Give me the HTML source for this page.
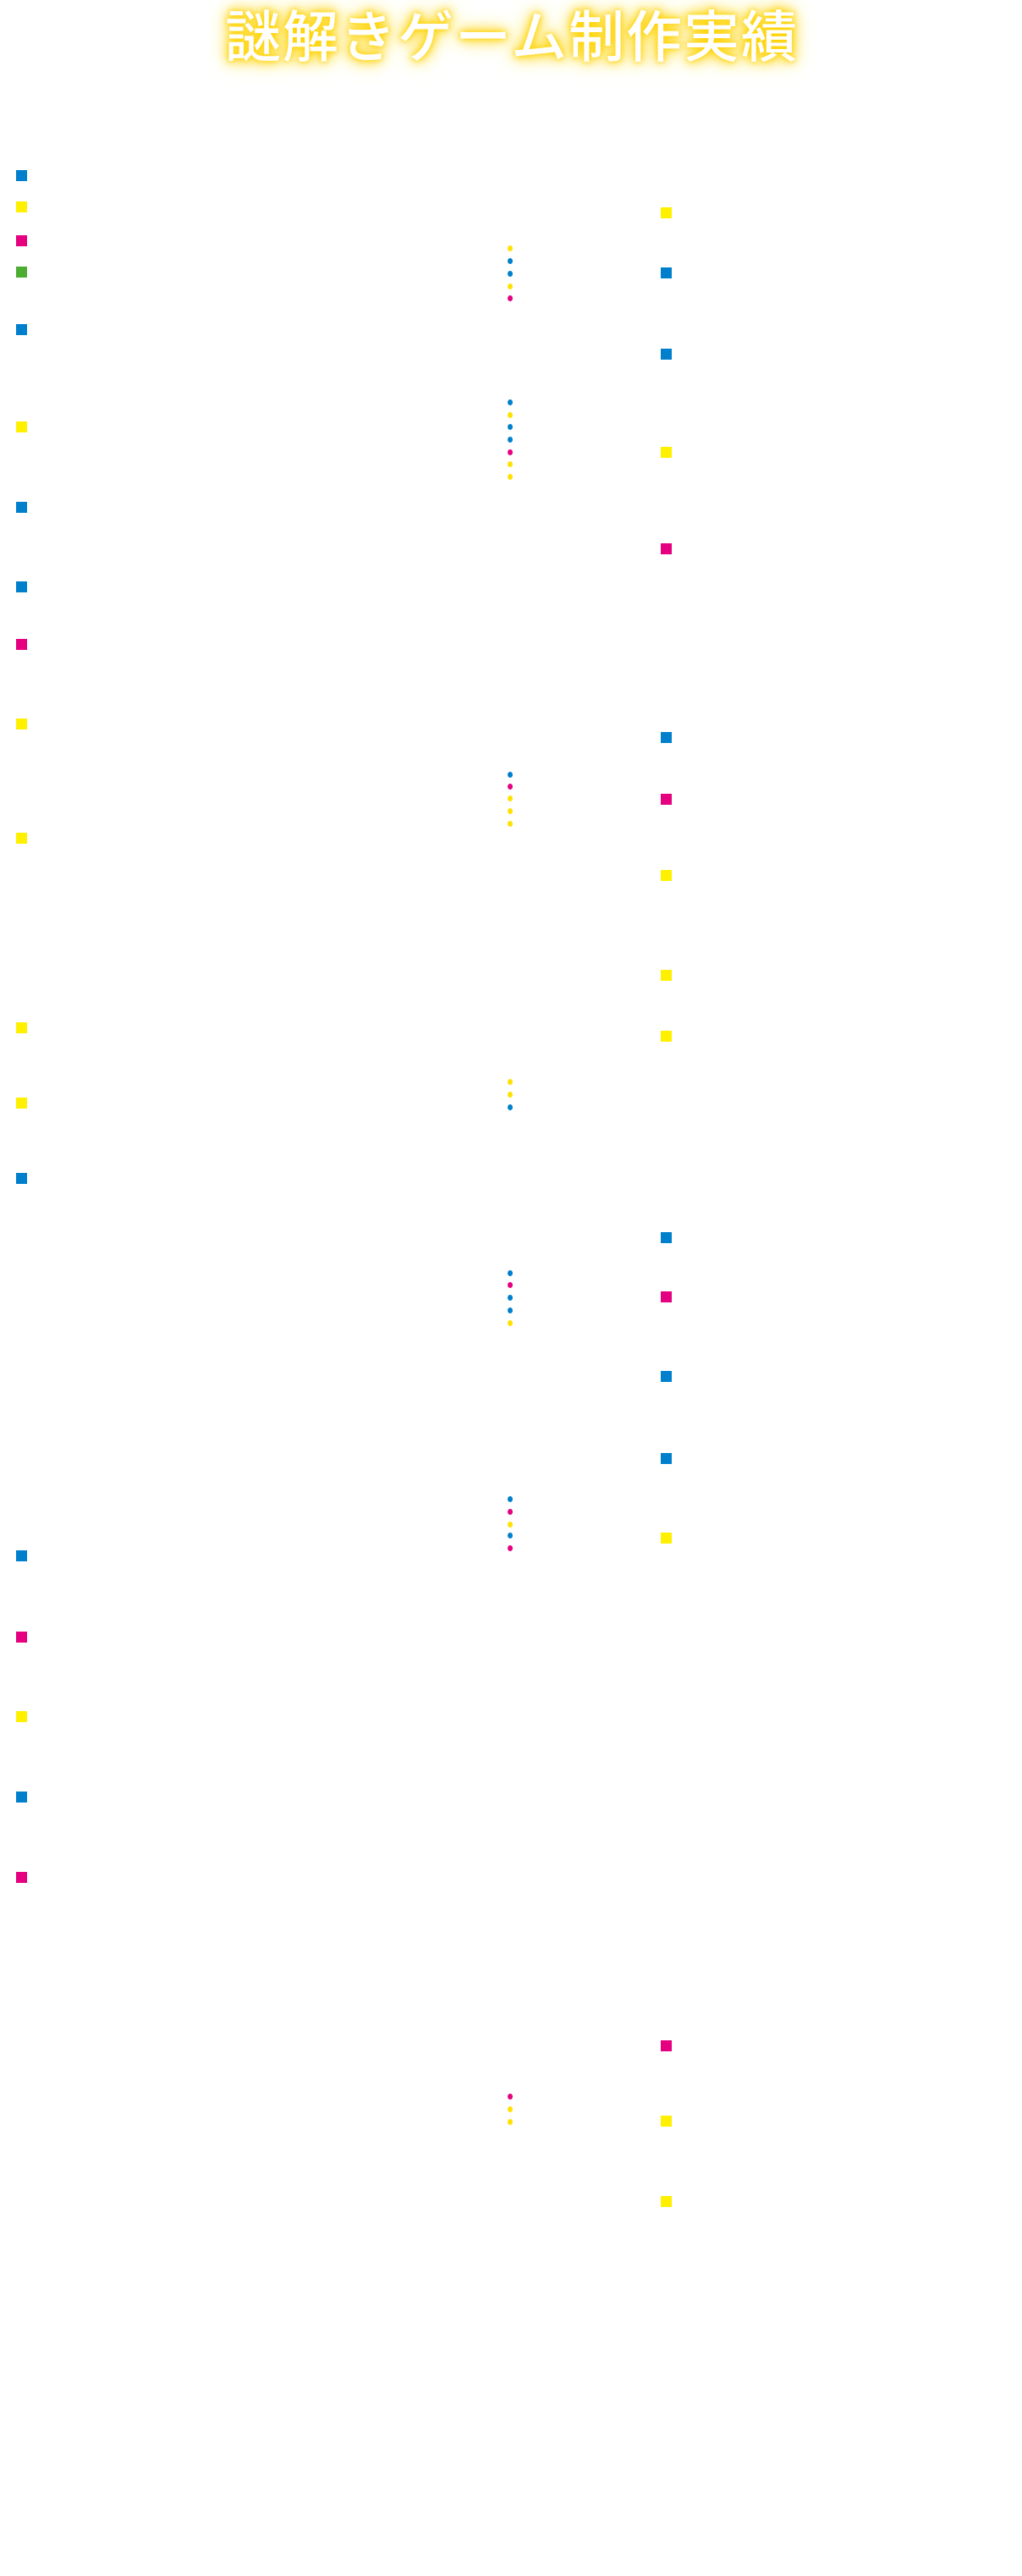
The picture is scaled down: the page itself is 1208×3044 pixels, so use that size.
<!DOCTYPE html>
<html><head><meta charset="utf-8"><style>
html,body{margin:0;padding:0;background:#fff;}
body{width:1208px;height:3044px;position:relative;overflow:hidden;}
.t{position:absolute;left:0;width:1208px;top:4px;text-align:center;font-family:"Liberation Sans","Noto Sans CJK JP",sans-serif;font-size:66px;font-weight:500;letter-spacing:2px;padding-left:2px;box-sizing:border-box;line-height:80px;color:#fff;
text-shadow:0 0 6px #ffd200,0 0 12px #ffd200,0 0 18px #ffdc30,0 0 26px #ffe566;}
.s{position:absolute;width:13px;height:13px;}
.d{position:absolute;width:6px;height:7px;border-radius:50%;left:600px;}
.b{background:#0080cc}.y{background:#fff000}.m{background:#e4007f}.g{background:#4cad32}.dy{background:#ffe100}
</style></head><body>
<div class="t">謎解きゲーム制作実績</div>
<script>
var L=[[207,'b'],[244,'y'],[284,'m'],[321,'g'],[389,'b'],[504,'y'],[599,'b'],[693,'b'],[761,'m'],[855,'y'],[990,'y'],[1214,'y'],[1303,'y'],[1392,'b'],[1838,'b'],[1934,'m'],[2028,'y'],[2123,'b'],[2218,'m']];
var R=[[251,'y'],[322,'b'],[418,'b'],[534,'y'],[648,'m'],[871,'b'],[944,'m'],[1034,'y'],[1152,'y'],[1224,'y'],[1462,'b'],[1532,'m'],[1626,'b'],[1723,'b'],[1817,'y'],[2417,'m'],[2506,'y'],[2601,'y']];
var D=[[293,'dy'],[308,'b'],[323,'b'],[338,'dy'],[352,'m'],[475,'b'],[490,'dy'],[504,'b'],[519,'b'],[534,'m'],[548,'dy'],[563,'dy'],[915,'b'],[929,'m'],[943,'dy'],[958,'dy'],[973,'dy'],[1278,'dy'],[1293,'dy'],[1308,'b'],[1504,'b'],[1518,'m'],[1533,'b'],[1548,'b'],[1563,'dy'],[1771,'b'],[1786,'m'],[1801,'dy'],[1814,'b'],[1829,'m'],[2477,'m'],[2492,'dy'],[2507,'dy']];
var h='';
L.forEach(function(a){h+='<div class="s '+a[1]+'" style="left:19px;top:'+(a[0]-6)+'px"></div>';});
R.forEach(function(a){h+='<div class="s '+a[1]+'" style="left:781px;top:'+(a[0]-6)+'px"></div>';});
D.forEach(function(a){h+='<div class="d '+a[1]+'" style="top:'+(a[0]-3)+'px"></div>';});
document.body.insertAdjacentHTML('beforeend',h);
</script>
</body></html>
